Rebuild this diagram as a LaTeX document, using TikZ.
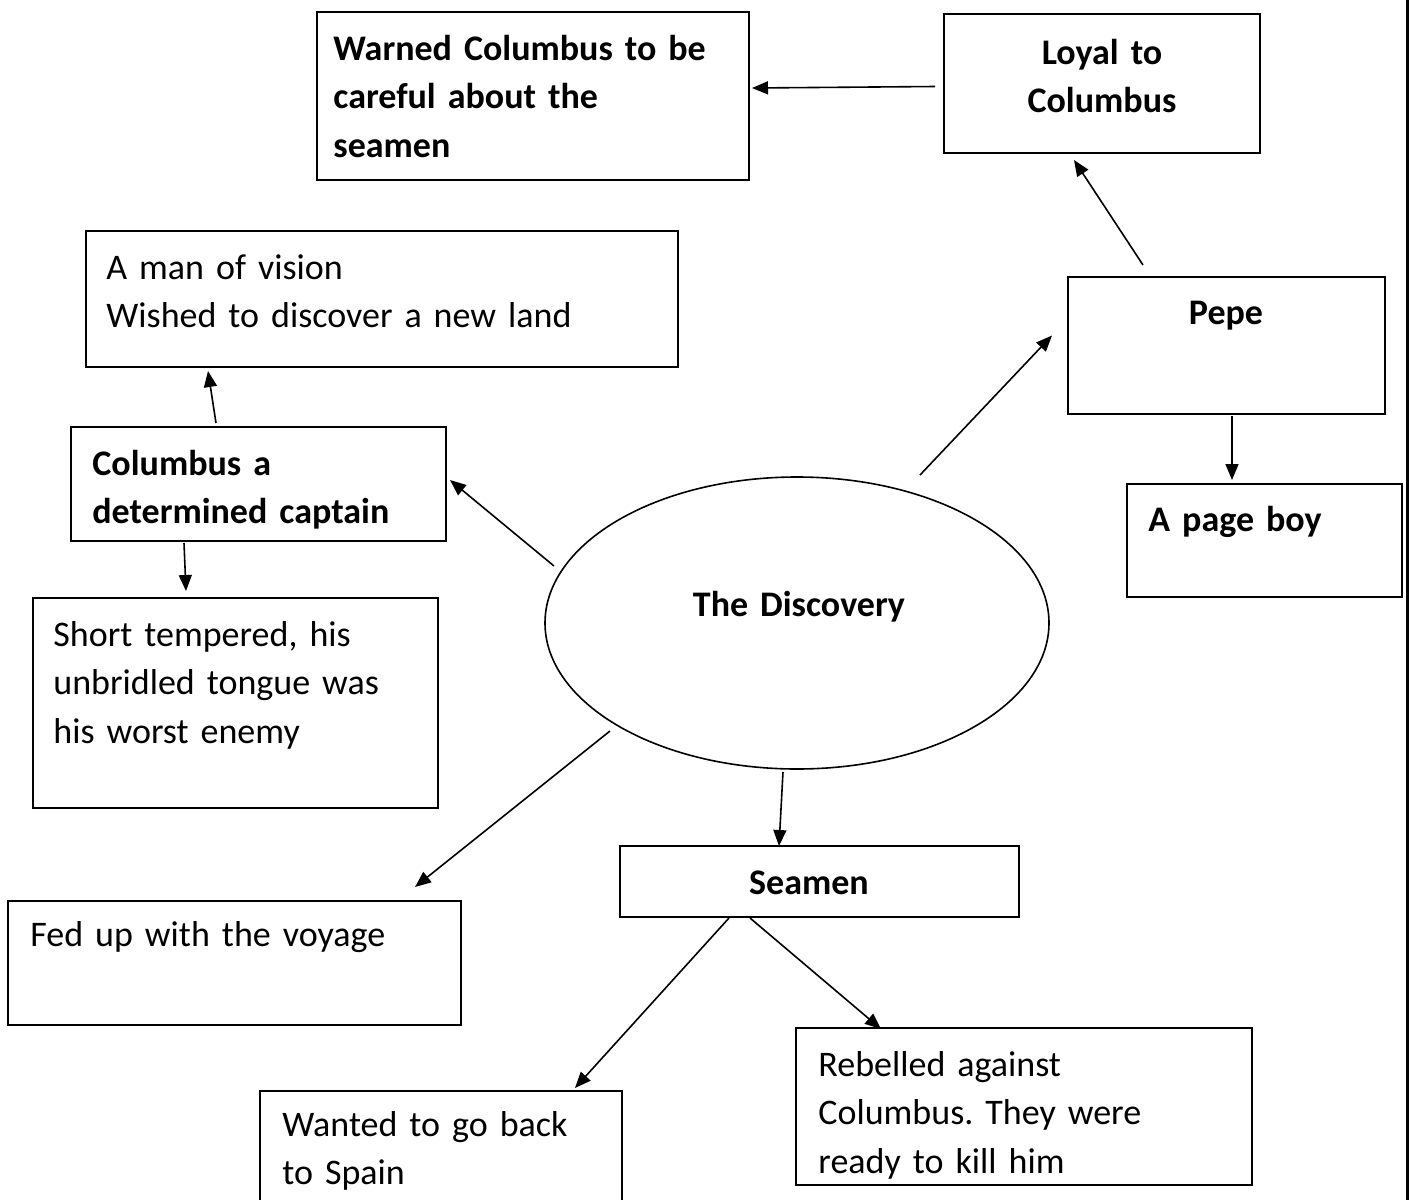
\documentclass[tikz,border=0pt]{standalone}
\usepackage{fontspec}
\setmainfont{Carlito}
\usetikzlibrary{shapes.geometric,arrows.meta,calc}

\newcommand{\mapfont}{\frenchspacing\fontsize{18}{24.3}\selectfont}

\tikzset{
  box/.style={draw, line width=0.9pt, rectangle, inner sep=0pt, outer sep=0pt, anchor=north west},
  lefttext/.style={inner sep=0pt, anchor=base west, text width=#1, align=left, font=\mapfont},
  midtext/.style={inner sep=0pt, anchor=base, text width=#1, align=center, font=\mapfont\bfseries},
  arr/.style={line width=0.8pt, -{Triangle[length=8pt,width=6.5pt]}},
}

\begin{document}
\begin{tikzpicture}[x=0.5pt, y=-0.5pt]
  \useasboundingbox (0,0) rectangle (1410,1200);
  \clip (0,0) rectangle (1410,1200);

  % page rule on the right
  \draw[line width=1.5pt] (1407,0) -- (1407,1200);

  % boxes
  \node[box, minimum width=216pt, minimum height=84pt] (warn) at (317,12) {};
  \node[box, minimum width=158pt, minimum height=69.5pt] (loyal) at (944,14) {};
  \node[box, minimum width=296pt, minimum height=68pt] (vision) at (86,231) {};
  \node[box, minimum width=158.5pt, minimum height=68.5pt] (pepe) at (1068,277) {};
  \node[box, minimum width=187.5pt, minimum height=57pt] (capt) at (71,427) {};
  \node[box, minimum width=137.5pt, minimum height=56.5pt] (page) at (1127,484) {};
  \node[box, minimum width=202.5pt, minimum height=105pt] (short) at (33,598) {};
  \node[box, minimum width=199.5pt, minimum height=35.5pt] (seamen) at (620,846) {};
  \node[box, minimum width=226.5pt, minimum height=62pt] (fedup) at (8,901) {};
  \node[box, minimum width=228pt, minimum height=78.5pt] (rebel) at (796,1028) {};
  \node[box, minimum width=181pt, minimum height=100pt] (wanted) at (260,1091) {};

  % central ellipse
  \node[draw, ellipse, line width=0.8pt, inner sep=0pt, minimum width=252pt, minimum height=146pt] (disc) at (797,623) {};

  % texts
  \node[lefttext=210pt, font=\mapfont\bfseries] (warn-t) at ($(warn.north west)+(16,48)$)
    {Warned Columbus to be\\careful about the\\seamen};
  \node[midtext=150pt] (loyal-t) at ($(loyal.north west)+(158,50)$) {Loyal to\\Columbus};
  \node[lefttext=290pt] (vision-t) at ($(vision.north west)+(20,48)$)
    {A man of vision\\Wished to discover a new land};
  \node[midtext=150pt] (pepe-t) at ($(pepe.north west)+(158,47)$) {Pepe};
  \node[lefttext=180pt, font=\mapfont\bfseries] (capt-t) at ($(capt.north west)+(21,48)$)
    {Columbus a\\determined captain};
  \node[lefttext=130pt, font=\mapfont\bfseries] (page-t) at ($(page.north west)+(21,47)$) {A page boy};
  \node[lefttext=195pt] (short-t) at ($(short.north west)+(20,48)$)
    {Short tempered, his\\unbridled tongue was\\his worst enemy};
  \node[midtext=190pt] (seamen-t) at ($(seamen.north west)+(189,48)$) {Seamen};
  \node[lefttext=220pt] (fedup-t) at ($(fedup.north west)+(22,45)$) {Fed up with the voyage};
  \node[lefttext=220pt] (rebel-t) at ($(rebel.north west)+(22,48)$)
    {Rebelled against\\Columbus. They were\\ready to kill him};
  \node[lefttext=175pt] (wanted-t) at ($(wanted.north west)+(22,45)$)
    {Wanted to go back\\to Spain};
  \node[midtext=200pt] (disc-t) at ($(disc)+(2,-7)$) {The Discovery};

  % connectors
  \draw[arr] ($(loyal.west)+(-9,3)$) -- ($(warn.east)+(3,-8)$);
  \draw[arr] ($(pepe.north west)+(75,-12)$) -- ($(loyal.south west)+(130,7)$);
  \draw[arr] ($(disc)+(123,-148)$) -- ($(pepe.west)+(-16,-10)$);
  \draw[arr] ($(pepe.south west)+(164,2)$) -- ($(page.north west)+(105,-4)$);
  \draw[arr] ($(disc)+(-243,-57)$) -- ($(capt.east)+(4,-4)$);
  \draw[arr] ($(capt.north west)+(145,-4)$) -- ($(vision.south west)+(122,4)$);
  \draw[arr] ($(capt.south west)+(113,2)$) -- ($(short.north west)+(153,-7)$);
  \draw[arr] ($(disc)+(-187,108)$) -- ($(fedup.north west)+(407,-14)$);
  \draw[arr] ($(disc)+(-14,149)$) -- ($(seamen.north west)+(159,0)$);
  \draw[arr] ($(seamen.south west)+(109,1)$) -- ($(wanted.north west)+(315,-3)$);
  \draw[arr] ($(seamen.south west)+(130,1)$) -- ($(rebel.north west)+(85,1)$);
\end{tikzpicture}
\end{document}
